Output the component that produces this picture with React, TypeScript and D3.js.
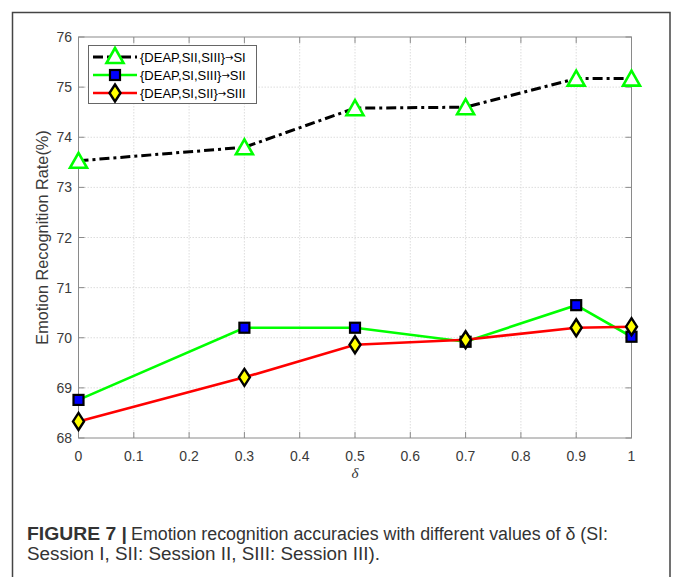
import React from "react";
import * as d3 from "d3";

// delta values on the x axis
const deltas = [0, 0.3, 0.5, 0.7, 0.9, 1];
// accuracies (%) per target session
const siValues = [73.53, 73.8, 74.58, 74.6, 75.17, 75.17];
const siiValues = [68.76, 70.2, 70.2, 69.92, 70.65, 70.02];
const siiiValues = [68.33, 69.21, 69.86, 69.96, 70.2, 70.22];

const xTicks = [0, 0.1, 0.2, 0.3, 0.4, 0.5, 0.6, 0.7, 0.8, 0.9, 1];
const yTicks = [68, 69, 70, 71, 72, 73, 74, 75, 76];
const legendLabels = ["{DEAP,SII,SIII}", "{DEAP,SI,SIII}", "{DEAP,SI,SII}"];
const legendTargets = ["SI", "SII", "SIII"];

const W = 673;
const H = 577;
const plot = { left: 78.5, right: 631.5, top: 37, bottom: 438 };

const x = d3.scaleLinear().domain([0, 1]).range([plot.left, plot.right]);
const y = d3.scaleLinear().domain([68, 76]).range([plot.bottom, plot.top]);

const font = "Liberation Sans, Arial, Helvetica, sans-serif";

const triangle = (cx: number, cy: number) =>
  `M${cx},${cy - 8}L${cx + 8.5},${cy + 7}L${cx - 8.5},${cy + 7}Z`;
const diamond = (cx: number, cy: number) =>
  `M${cx},${cy - 8.5}L${cx + 5.5},${cy}L${cx},${cy + 8.5}L${cx - 5.5},${cy}Z`;

const Marker = ({ kind, cx, cy }: { kind: number; cx: number; cy: number }) => {
  if (kind === 0)
    return <path d={triangle(cx, cy)} fill="#fff" stroke="#00ff00" strokeWidth={2.6} />;
  if (kind === 1)
    return (
      <rect x={cx - 5} y={cy - 5} width={10} height={10} fill="#0000ff" stroke="#000" strokeWidth={2.2} />
    );
  return <path d={diamond(cx, cy)} fill="#ffff00" stroke="#000" strokeWidth={2.4} />;
};

const series = [
  { values: siValues, color: "#000", dash: "10,4,3,4", width: 3 },
  { values: siiValues, color: "#00ff00", dash: undefined, width: 2.6 },
  { values: siiiValues, color: "#ff0000", dash: undefined, width: 2.6 },
];

export default function App() {
  const line = d3
    .line<number>()
    .x((_, i) => x(deltas[i]))
    .y((d) => y(d));

  return (
    <svg
      width={W}
      height={H}
      style={{ position: "absolute", left: 0, top: 0, background: "#fff" }}
    >
      {/* figure frame */}
      <path d={`M12.5,${H}V12.5H670V${H}`} fill="none" stroke="#444" strokeWidth={1.5} />

      {/* grid */}
      <g stroke="#d4d4d4" strokeWidth={0.8} strokeDasharray="1.5,1.5">
        {xTicks.slice(1, -1).map((t) => (
          <line key={"gx" + t} x1={x(t)} x2={x(t)} y1={plot.top} y2={plot.bottom} />
        ))}
        {yTicks.slice(1, -1).map((t) => (
          <line key={"gy" + t} x1={plot.left} x2={plot.right} y1={y(t)} y2={y(t)} />
        ))}
      </g>

      {/* axes box and ticks */}
      <rect
        x={plot.left}
        y={plot.top}
        width={plot.right - plot.left}
        height={plot.bottom - plot.top}
        fill="none"
        stroke="#8a8a8a"
        strokeWidth={1}
      />
      <g stroke="#8a8a8a" strokeWidth={1}>
        {xTicks.map((t) => (
          <g key={"tx" + t}>
            <line x1={x(t)} x2={x(t)} y1={plot.bottom} y2={plot.bottom - 6} />
            <line x1={x(t)} x2={x(t)} y1={plot.top} y2={plot.top + 6} />
          </g>
        ))}
        {yTicks.map((t) => (
          <g key={"ty" + t}>
            <line x1={plot.left} x2={plot.left + 6} y1={y(t)} y2={y(t)} />
            <line x1={plot.right} x2={plot.right - 6} y1={y(t)} y2={y(t)} />
          </g>
        ))}
      </g>

      {/* tick labels */}
      <g fontFamily={font} fontSize={14} fill="#3a3a3a">
        {xTicks.map((t) => (
          <text key={"lx" + t} x={x(t)} y={461} textAnchor="middle">
            {String(t)}
          </text>
        ))}
        {yTicks.map((t) => (
          <text key={"ly" + t} x={72} y={y(t) + 5} textAnchor="end">
            {t}
          </text>
        ))}
      </g>

      {/* axis labels */}
      <text
        x={x(0.5)}
        y={478}
        textAnchor="middle"
        fontFamily="Liberation Serif, Times New Roman, serif"
        fontStyle="italic"
        fontSize={15}
        fill="#333"
      >
        δ
      </text>
      <text
        transform={`translate(48,${(plot.top + plot.bottom) / 2}) rotate(-90)`}
        textAnchor="middle"
        fontFamily={font}
        fontSize={16.3}
        fill="#3a3a3a"
      >
        Emotion Recognition Rate(%)
      </text>

      {/* series */}
      {series.map((s, k) => (
        <g key={"s" + k}>
          <path
            d={line(s.values) ?? ""}
            fill="none"
            stroke={s.color}
            strokeWidth={s.width}
            strokeDasharray={s.dash}
          />
          {s.values.map((v, i) => (
            <Marker key={i} kind={k} cx={x(deltas[i])} cy={y(v)} />
          ))}
        </g>
      ))}

      {/* legend */}
      <rect x={88.5} y={45.5} width={168} height={58} fill="#fff" stroke="#666" strokeWidth={1} />
      {series.map((s, k) => {
        const ly = 57 + k * 18;
        return (
          <g key={"lg" + k}>
            <line
              x1={93}
              x2={137}
              y1={ly}
              y2={ly}
              stroke={s.color}
              strokeWidth={s.width}
              strokeDasharray={k === 0 ? "10,4" : undefined}
            />
            <Marker kind={k} cx={115} cy={k === 0 ? ly - 1 : ly} />
            <text x={140} y={ly + 4.5} fontFamily={font} fontSize={13} fill="#000">
              {legendLabels[k]}
              <tspan fontSize={10} fontFamily="DejaVu Sans" dy={-1}>→</tspan>
              <tspan dy={1}>{legendTargets[k]}</tspan>
            </text>
          </g>
        );
      })}

      {/* caption */}
      <g fontFamily={font} fill="#333" fontSize={18}>
        <text x={27} y={540} fontWeight="bold" textLength={100} lengthAdjust="spacingAndGlyphs">
          FIGURE 7 |
        </text>
        <text x={131} y={540} textLength={477} lengthAdjust="spacingAndGlyphs">
          Emotion recognition accuracies with different values of δ (SI:
        </text>
        <text x={27} y={560} textLength={353} lengthAdjust="spacingAndGlyphs">
          Session I, SII: Session II, SIII: Session III).
        </text>
      </g>
    </svg>
  );
}
